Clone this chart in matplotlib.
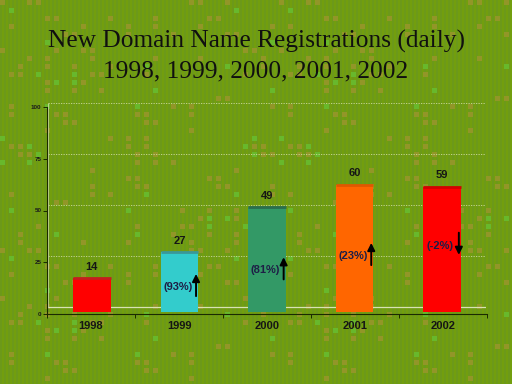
import numpy as np
import matplotlib
matplotlib.use('Agg')
import matplotlib.pyplot as plt

# ---- data ----
years = ['1998', '1999', '2000', '2001', '2002']
registrations = [14, 27, 49, 60, 59]
change_labels = ['', '(93%)', '(81%)', '(23%)', '(-2%)']
change_dir = [0, 1, 1, 1, -1]
y_ticks = [0, 25, 50, 75, 100]
title_lines = ['New Domain Name Registrations (daily)', '1998, 1999, 2000, 2001, 2002']

# ---- styles / layout ----
bar_colors = ['#FF0000', '#33CCCC', '#339966', '#FF6600', '#FF0000']
bar_top_colors = ['#C41E1E', '#3A9898', '#2A6E4E', '#E05800', '#D40000']
ANNOT_Y = [0, 9.8, 18, 25, 30]
FLOOR = -2.5
W, H = 512, 384
SANS = 'Liberation Sans'

fig = plt.figure(figsize=(W / 100, H / 100), dpi=100)

# background mosaic texture (decorative)
yy, xx = np.mgrid[0:H, 0:W]
bg = np.zeros((H, W, 3))
bg[:] = np.array([114, 158, 14]) / 255
stripe = (xx % 4) < 2
bg[stripe] = np.array([108, 153, 26]) / 255
ci = xx // 9
cj = yy // 8
inside = ((xx % 9) < 5) & ((yy % 8) < 5)
hsh = (ci * 73 + cj * 151 + ci * ci * 7 + ci * cj * 17 + cj * cj * 11) % 31
bg[inside & (hsh < 4)] = np.array([146, 150, 40]) / 255
bg[inside & (hsh == 11)] = np.array([104, 184, 44]) / 255
fig.figimage(bg, 0, 0, zorder=-5)

# title
fig.text(0.5, 1 - 41 / H, title_lines[0], ha='center', va='center',
         fontsize=18.3, family='Liberation Serif', color='#101010')
fig.text(0.5, 1 - 71 / H, title_lines[1], ha='center', va='center',
         fontsize=18.3, family='Liberation Serif', color='#101010')

# back plane axes
ax = fig.add_axes([48 / W, (H - 314) / H, 438 / W, (314 - 103) / H])
ax.set_zorder(1)
ax.set_xlim(-0.5, len(years) - 0.5)
ax.set_ylim(-3.4, 100)
ax.patch.set_visible(False)
for s in ax.spines.values():
    s.set_visible(False)
ax.set_xticks([])
ax.set_yticks([])

grid_col = '#CCDA9C'
for t in y_ticks[1:]:
    ax.axhline(t, color=grid_col, ls=(0, (1.5, 1.5)), lw=0.6, zorder=1)
ax.axhline(0, color='#D8E2B4', lw=0.9, zorder=1)
ax.vlines([-0.5], 0, 100, color=grid_col, lw=0.6, zorder=1)
ax.vlines([len(years) - 0.5], 0, 100, color=grid_col, lw=0.6, ls=(0, (1.5, 1.5)), zorder=1)

x = np.arange(len(years))
heights = [v - FLOOR for v in registrations]
bw = 0.43
ax.bar(x, heights, bottom=FLOOR, width=bw, color=bar_colors, zorder=2)
ax.hlines(registrations, x - bw / 2, x + bw / 2, colors=bar_top_colors, lw=2, zorder=3)

for i, v in enumerate(registrations):
    ax.text(i, v + 5.5, str(v), ha='center', va='center', fontsize=8,
            fontweight='bold', family=SANS, color='#151515', zorder=4)

for i, (lab, d) in enumerate(zip(change_labels, change_dir)):
    if not lab:
        continue
    yc = ANNOT_Y[i]
    ax.text(i - 0.02, yc, lab, ha='center', va='center', fontsize=8,
            fontweight='bold', family=SANS, color='#1E1E46', zorder=4)
    ya, yb = yc + 1 - 6.8 * d, yc + 1 + 6.8 * d
    ax.annotate('', xy=(i + 0.19, yb), xytext=(i + 0.19, ya),
                arrowprops=dict(arrowstyle='-|>', color='black', lw=1.4,
                                mutation_scale=11), zorder=5)

# front axes (value axis and category axis)
ax2 = fig.add_axes([47 / W, (H - 314) / H, 440 / W, (314 - 107) / H])
ax2.set_zorder(2)
ax2.set_xlim(-0.5, len(years) - 0.5)
ax2.set_ylim(0, 100)
ax2.patch.set_visible(False)
for s in ['top', 'right']:
    ax2.spines[s].set_visible(False)
for s in ['left', 'bottom']:
    ax2.spines[s].set_color('#1A2A00')
    ax2.spines[s].set_linewidth(0.8)
ax2.set_yticks(y_ticks)
ax2.set_yticklabels([str(t) for t in y_ticks], fontsize=4.5, fontweight='bold',
                    family=SANS, color='#1A1A1A')
ax2.tick_params(axis='y', length=3, width=0.7, color='#1A2A00', pad=1)
ax2.set_xticks(np.arange(-0.5, len(years), 1))
ax2.set_xticklabels([])
ax2.tick_params(axis='x', which='major', length=3, width=0.7, color='#1A2A00')
ax2.set_xticks(x, minor=True)
ax2.set_xticklabels(years, minor=True, fontsize=8, fontweight='bold',
                    family=SANS, color='#151515')
ax2.tick_params(axis='x', which='minor', length=0, pad=5)

fig.savefig('out.png', dpi=100)
